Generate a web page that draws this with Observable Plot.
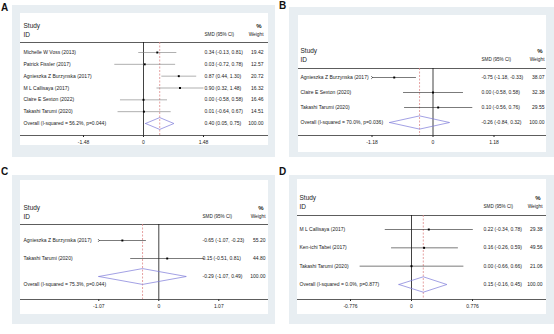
<!DOCTYPE html>
<html><head><meta charset="utf-8">
<script src="https://cdn.jsdelivr.net/npm/d3@7"></script>
<script src="https://cdn.jsdelivr.net/npm/@observablehq/plot@0.6"></script>
<style>
body{margin:0;background:#fff;font-family:"Liberation Sans",Arial,sans-serif;}
#root{position:relative;width:554px;height:334px;overflow:hidden;}
.letter{position:absolute;font-size:10px;font-weight:bold;line-height:1;color:#111;}
.box{position:absolute;background:#e8eef2;}
.inner{position:absolute;background:#fff;}
.inner svg{display:block;}
</style></head><body><div id="root"></div>
<script>
// ---- Panel A ----
const studiesA = ["Michelle W Voss (2013)", "Patrick Fissler (2017)", "Agnieszka Z Burzynska (2017)", "M L Callisaya (2017)", "Claire E Sexton (2022)", "Takashi Tarumi (2020)"];
const smdA = [0.34, 0.03, 0.87, 0.90, 0.00, 0.01];
const loA = [-0.13, -0.72, 0.44, 0.32, -0.58, -0.64];
const hiA = [0.81, 0.78, 1.30, 1.48, 0.58, 0.67];
const weightA = [19.42, 12.57, 20.72, 16.32, 16.46, 14.51];
const overallA = [0.40, 0.05, 0.75];
const hetA = ["56.2%", "0.044"];
const tickA = 1.48;

// ---- Panel B ----
const studiesB = ["Agnieszka Z Burzynska (2017)", "Claire E Sexton (2020)", "Takashi Tarumi (2020)"];
const smdB = [-0.75, 0.00, 0.10];
const loB = [-1.18, -0.58, -0.56];
const hiB = [-0.33, 0.58, 0.76];
const weightB = [38.07, 32.38, 29.55];
const overallB = [-0.26, -0.84, 0.32];
const hetB = ["70.0%", "0.036"];
const tickB = 1.18;

// ---- Panel C ----
const studiesC = ["Agnieszka Z Burzynska (2017)", "Takashi Tarumi (2020)"];
const smdC = [-0.65, 0.15];
const loC = [-1.07, -0.51];
const hiC = [-0.23, 0.81];
const weightC = [55.20, 44.80];
const overallC = [-0.29, -1.07, 0.49];
const hetC = ["75.3%", "0.044"];
const tickC = 1.07;

// ---- Panel D ----
const studiesD = ["M L Callisaya (2017)", "Ken-ichi Tabei (2017)", "Takashi Tarumi (2020)"];
const smdD = [0.22, 0.16, 0.00];
const loD = [-0.34, -0.26, -0.66];
const hiD = [0.78, 0.59, 0.66];
const weightD = [29.38, 49.56, 21.06];
const overallD = [0.15, -0.16, 0.45];
const hetD = ["0.0%", "0.877"];
const tickD = 0.776;

const panelLetters = ["A", "B", "C", "D"];

// layout (pixels) per panel
const layouts = [
  {letter:[1,3], box:[12,5,263,152], inner:[20,13,248,132], rule:29, axis:122, insetTop:10, insetBottom:12, zero:123, half:60, studyY:10, idY:19, labelX:3, ciX:184, wR:243, ovDy:0, ciColor:"#7a7a7a", dH:0.5},
  {letter:[279,1], box:[289,7,265,150], inner:[298,15,248,137], rule:53, axis:120, insetTop:9, insetBottom:13, zero:134.5, half:61, studyY:33, idY:42, labelX:2, ciX:183, wR:246, ovDy:0, ciColor:"#222", dH:0.44},
  {letter:[1,167], box:[12,175,263,149], inner:[20,180,248,134], rule:44, axis:119, insetTop:16, insetBottom:23, zero:138.3, half:60, studyY:25, idY:34, labelX:3, ciX:182, wR:245, ovDy:8, ciColor:"#222", dH:0.44},
  {letter:[279,167], box:[289,175,265,149], inner:[297,179,249,135], rule:36, axis:120, insetTop:14, insetBottom:15, zero:114, half:61, studyY:16, idY:25, labelX:2, ciX:186, wR:245, ovDy:0, ciColor:"#222", dH:0.42}
];

const panels = [
  {studies:studiesA, smd:smdA, lo:loA, hi:hiA, weight:weightA, overall:overallA, het:hetA, tick:tickA},
  {studies:studiesB, smd:smdB, lo:loB, hi:hiB, weight:weightB, overall:overallB, het:hetB, tick:tickB},
  {studies:studiesC, smd:smdC, lo:loC, hi:hiC, weight:weightC, overall:overallC, het:hetC, tick:tickC},
  {studies:studiesD, smd:smdD, lo:loD, hi:hiD, weight:weightD, overall:overallD, het:hetD, tick:tickD}
];

const fmt = v => v.toFixed(2);
const tfmt = d => d === 0 ? "0" : String(d);
const txt = "#222";

function forest(p, L) {
  const n = p.studies.length;
  const rows = p.studies.map((s, i) => ({i, label:s, smd:p.smd[i], lo:p.lo[i], hi:p.hi[i], w:p.weight[i]}));
  const ov = {i:n, label:`Overall (I-squared = ${p.het[0]}, p=${p.het[1]})`, smd:p.overall[0], lo:p.overall[1], hi:p.overall[2], w:100};
  const all = [...rows, ov];
  const t = p.tick;
  const clipped = rows.filter(d => d.lo <= -t);
  const free = rows.filter(d => d.lo > -t);
  const h = L.dH;
  const diamond = [
    {x:ov.lo, y:n}, {x:ov.smd, y:n - h}, {x:ov.hi, y:n}, {x:ov.smd, y:n + h}, {x:ov.lo, y:n}
  ];
  const W = L.inner[2], H = L.inner[3];
  return Plot.plot({
    width: W, height: H,
    marginTop: L.rule, marginBottom: H - L.axis, marginLeft: 0, marginRight: 0,
    style: {fontSize: "5px", fontFamily: "'Liberation Sans', Arial, sans-serif", color: txt, background: "white"},
    x: {domain: [-t, t], range: [L.zero - L.half, L.zero + L.half], ticks: [-t, 0, t], tickFormat: tfmt, tickSize: 2, tickPadding: 2.5, label: null},
    y: {domain: [0, n], reverse: true, insetTop: L.insetTop, insetBottom: L.insetBottom, axis: null},
    marks: [
      Plot.frame({anchor: "top", stroke: "#333", strokeWidth: 0.8}),
      Plot.frame({anchor: "bottom", stroke: "#333", strokeWidth: 0.8}),
      Plot.ruleX([0], {stroke: "#111", strokeWidth: 0.8}),
      Plot.ruleX([ov.smd], {stroke: "#e08a8a", strokeWidth: 0.8, strokeDasharray: "2,1.5"}),
      Plot.link(free, {x1: "lo", x2: "hi", y1: "i", y2: "i", stroke: L.ciColor, strokeWidth: 0.6}),
      Plot.link(clipped, {x1: "lo", x2: "hi", y1: "i", y2: "i", stroke: L.ciColor, strokeWidth: 0.6, markerStart: "arrow"}),
      Plot.dot(rows, {x: "smd", y: "i", r: 1.1, symbol: "square", fill: "#000", stroke: null}),
      Plot.line(diamond, {x: "x", y: "y", stroke: "#7b78d8", strokeWidth: 0.7}),
      Plot.text(rows, {y: "i", text: "label", frameAnchor: "left", textAnchor: "start", dx: L.labelX, fontSize: 5, fill: txt}),
      Plot.text([ov], {y: "i", text: "label", frameAnchor: "left", textAnchor: "start", dx: L.labelX, dy: L.ovDy, fontSize: 5, fill: txt}),
      Plot.text(all, {y: "i", text: d => `${fmt(d.smd)} (${fmt(d.lo)}, ${fmt(d.hi)})`, frameAnchor: "left", textAnchor: "start", dx: L.ciX, fontSize: 5, fill: txt}),
      Plot.text(all, {y: "i", text: d => fmt(d.w), frameAnchor: "right", textAnchor: "end", dx: L.wR - W, fontSize: 5, fill: txt}),
      Plot.text(["Study"], {text: d => d, frameAnchor: "top-left", textAnchor: "start", dx: L.labelX, dy: L.studyY - L.rule, fontSize: 6.5, fill: txt}),
      Plot.text(["ID"], {text: d => d, frameAnchor: "top-left", textAnchor: "start", dx: L.labelX, dy: L.idY - L.rule, fontSize: 6.5, fill: txt}),
      Plot.text(["SMD (95% CI)"], {text: d => d, frameAnchor: "top-left", textAnchor: "start", dx: L.ciX, dy: L.idY - L.rule, fontSize: 4.6, fill: txt}),
      Plot.text(["%"], {text: d => d, frameAnchor: "top-right", textAnchor: "end", dx: L.wR - W - 2, dy: L.studyY - L.rule, fontSize: 6, fontWeight: "bold", fill: txt}),
      Plot.text(["Weight"], {text: d => d, frameAnchor: "top-right", textAnchor: "end", dx: L.wR - W, dy: L.idY - L.rule, fontSize: 4.8, fill: txt})
    ]
  });
}

const root = document.getElementById("root");
panels.forEach((p, k) => {
  const L = layouts[k];
  const box = document.createElement("div");
  box.className = "box";
  Object.assign(box.style, {left: L.box[0] + "px", top: L.box[1] + "px", width: L.box[2] + "px", height: L.box[3] + "px"});
  root.appendChild(box);
  const inner = document.createElement("div");
  inner.className = "inner";
  Object.assign(inner.style, {left: L.inner[0] + "px", top: L.inner[1] + "px", width: L.inner[2] + "px", height: L.inner[3] + "px"});
  inner.appendChild(forest(p, L));
  root.appendChild(inner);
  const letter = document.createElement("div");
  letter.className = "letter";
  letter.textContent = panelLetters[k];
  Object.assign(letter.style, {left: L.letter[0] + "px", top: L.letter[1] + "px"});
  root.appendChild(letter);
});
</script>
</body></html>
